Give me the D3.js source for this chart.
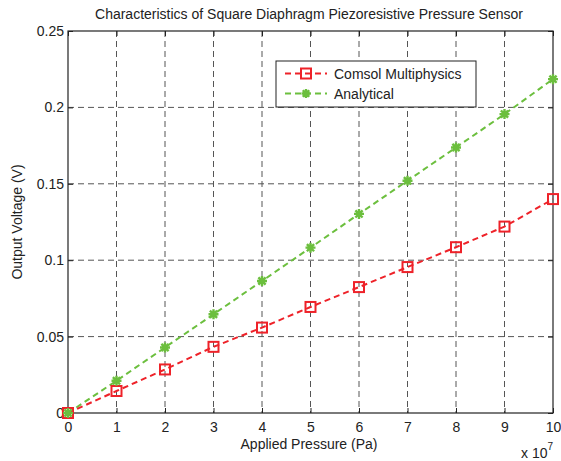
<!DOCTYPE html>
<html>
<head>
<meta charset="utf-8">
<script src="https://cdn.jsdelivr.net/npm/d3@7"></script>
<style>
  body { margin: 0; background: #fff; }
  svg { font-family: "Liberation Sans", Arial, sans-serif; }
</style>
</head>
<body>
<svg id="chart" width="561" height="461"></svg>
<script>
'use strict'

// data
const pressure = [0, 1, 2, 3, 4, 5, 6, 7, 8, 9, 10]   // x 10^7 Pa
const comsol = [0, 0.0144, 0.0285, 0.0433, 0.0559, 0.0694, 0.0824, 0.0955, 0.1085, 0.122, 0.140]
const analytical = [0, 0.0211, 0.0429, 0.0646, 0.0864, 0.1082, 0.1303, 0.152, 0.1738, 0.1956, 0.2185]
const xTicks = [0, 1, 2, 3, 4, 5, 6, 7, 8, 9, 10]
const yTicks = [0, 0.05, 0.1, 0.15, 0.2, 0.25]
const seriesNames = ['Comsol Multiphysics', 'Analytical']

function draw(){

let svg = d3.select('#chart')
let pLeft = 68, pRight = 553, pTop = 31, pBottom = 413
const fs = 14

let x = d3.scaleLinear().domain([0, 10]).range([pLeft, pRight])
let y = d3.scaleLinear().domain([0, 0.25]).range([pBottom, pTop])

const red = '#ee2229'
const green = '#6cbf3e'
const grid = '#555'

// grid
let g = svg.append('g')
g.selectAll('line.vx')
  .data(xTicks.slice(1, -1))
  .join('line')
  .attr('x1', d => x(d)).attr('x2', d => x(d))
  .attr('y1', pTop).attr('y2', pBottom)
  .attr('stroke', grid).attr('stroke-width', 1).attr('stroke-dasharray', '6,4')
g.selectAll('line.hy')
  .data(yTicks.slice(1, -1))
  .join('line')
  .attr('y1', d => y(d)).attr('y2', d => y(d))
  .attr('x1', pLeft).attr('x2', pRight)
  .attr('stroke', grid).attr('stroke-width', 1).attr('stroke-dasharray', '6,4')

// axes (ticks inward on all sides)
let fmt = d => d === 0 ? '0' : String(d)
svg.append('g').attr('transform', `translate(0,${pBottom})`)
  .call(d3.axisBottom(x).tickValues(xTicks).tickSizeInner(-5).tickSizeOuter(0).tickPadding(9).tickFormat(fmt))
svg.append('g').attr('transform', `translate(0,${pTop})`)
  .call(d3.axisTop(x).tickValues(xTicks).tickSizeInner(-5).tickSizeOuter(0).tickFormat(''))
svg.append('g').attr('transform', `translate(${pLeft},0)`)
  .call(d3.axisLeft(y).tickValues(yTicks).tickSizeInner(-5).tickSizeOuter(0).tickPadding(4).tickFormat(fmt))
svg.append('g').attr('transform', `translate(${pRight},0)`)
  .call(d3.axisRight(y).tickValues(yTicks).tickSizeInner(-5).tickSizeOuter(0).tickFormat(''))

svg.selectAll('.domain').remove()
svg.selectAll('.tick line').attr('stroke', '#222')
svg.selectAll('.tick text').attr('font-size', fs).attr('fill', '#222')

svg.append('rect')
  .attr('x', pLeft).attr('y', pTop)
  .attr('width', pRight - pLeft).attr('height', pBottom - pTop)
  .attr('fill', 'none').attr('stroke', '#222').attr('stroke-width', 1.2)

// lines
let line = d3.line().x((d, i) => x(pressure[i])).y(d => y(d))

svg.append('path').datum(analytical)
  .attr('d', line).attr('fill', 'none')
  .attr('stroke', green).attr('stroke-width', 2).attr('stroke-dasharray', '6,4')
svg.append('path').datum(comsol)
  .attr('d', line).attr('fill', 'none')
  .attr('stroke', red).attr('stroke-width', 2).attr('stroke-dasharray', '6,4')

function star(sel, cx, cy, r) {
  let s = sel.append('g').attr('transform', `translate(${cx},${cy})`)
  let k = r * 0.72
  s.append('path')
    .attr('d', `M${-r},0H${r}M0,${-r}V${r}M${-k},${-k}L${k},${k}M${-k},${k}L${k},${-k}`)
    .attr('stroke', green).attr('stroke-width', 2.4).attr('fill', 'none')
  s.append('circle').attr('r', 2.2).attr('fill', green)
}

function square(sel, cx, cy, r) {
  sel.append('rect')
    .attr('x', cx - r).attr('y', cy - r).attr('width', 2 * r).attr('height', 2 * r)
    .attr('fill', 'none').attr('stroke', red).attr('stroke-width', 2)
}

let marks = svg.append('g')
comsol.forEach((d, i) => square(marks, x(pressure[i]), y(d), 5))
analytical.forEach((d, i) => star(marks, x(pressure[i]), y(d), 5))

// legend
let lg = svg.append('g')
lg.append('rect').attr('x', 276).attr('y', 61).attr('width', 200).attr('height', 46)
  .attr('fill', '#fff').attr('stroke', '#222').attr('stroke-width', 1)
let rows = [73.5, 93.5]
lg.append('line').attr('x1', 285).attr('x2', 327).attr('y1', rows[0]).attr('y2', rows[0])
  .attr('stroke', red).attr('stroke-width', 2).attr('stroke-dasharray', '6,4')
square(lg, 306, rows[0], 5)
lg.append('line').attr('x1', 285).attr('x2', 327).attr('y1', rows[1]).attr('y2', rows[1])
  .attr('stroke', green).attr('stroke-width', 2).attr('stroke-dasharray', '6,4')
star(lg, 306, rows[1], 4.5)
seriesNames.forEach((n, i) => {
  lg.append('text').attr('x', 334).attr('y', rows[i] + 5)
    .attr('font-size', fs).attr('fill', '#222').text(n)
})

// titles
svg.append('text').attr('x', 309).attr('y', 19).attr('text-anchor', 'middle')
  .attr('font-size', fs).attr('fill', '#222')
  .text('Characteristics of Square Diaphragm Piezoresistive Pressure Sensor')
svg.append('text').attr('x', 309).attr('y', 449).attr('text-anchor', 'middle')
  .attr('font-size', fs).attr('fill', '#222').text('Applied Pressure (Pa)')
svg.append('text').attr('transform', `translate(22,${(pTop + pBottom) / 2}) rotate(-90)`)
  .attr('text-anchor', 'middle').attr('font-size', fs).attr('fill', '#222')
  .text('Output Voltage (V)')
let ex = svg.append('text').attr('x', 521).attr('y', 458).attr('font-size', fs).attr('fill', '#222')
ex.append('tspan').text('x 10')
ex.append('tspan').attr('dy', -8).attr('font-size', 10).text('7')
}

draw()
</script>
</body>
</html>
